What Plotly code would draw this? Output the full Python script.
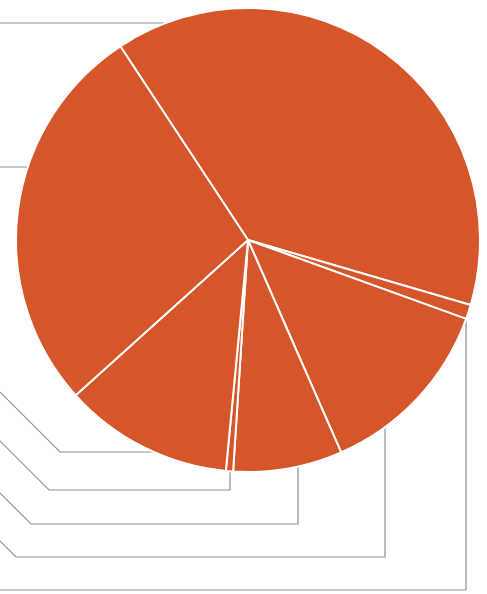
import plotly.graph_objects as go

# ---- data (share of the whole) ----
categories = ["Segment A", "Segment B", "Segment C", "Segment D",
              "Segment E", "Segment F", "Segment G"]
values = [38.8, 1.0, 12.9, 7.6, 0.5, 11.8, 27.4]

# ---- layout constants (pixels) ----
W, H = 487, 594
CX, CY, R = 248, 240, 232          # pie centre / radius in pixels
START_ANGLE = 326.6                # first slice starts here (clockwise from 12 o'clock)
PIE_COLOR = "#D5562A"
LEADER_COLOR = "#8C9096"

# leader routes (pixel polylines), each ends hidden under the pie
leaders = [
    [(0, 23), (175, 23)],                                   # Segment A
    [(0, 167), (40, 167)],                                  # Segment G
    [(-20, 372), (60, 452), (170, 452)],                    # Segment F
    [(-20, 421), (49, 490), (230, 490), (230, 462)],        # Segment E
    [(-20, 473), (31, 524), (298, 524), (298, 455)],        # Segment D
    [(-20, 521), (16, 557), (385, 557), (385, 410)],        # Segment C
    [(-20, 590), (466, 590), (466, 305)],                   # Segment B
]


def px(x):
    return x / W


def py(y):
    return 1 - y / H


fig = go.Figure()
fig.add_trace(go.Pie(
    labels=categories,
    values=values,
    sort=False,
    direction="clockwise",
    rotation=START_ANGLE,
    textinfo="none",
    hoverinfo="label+percent",
    marker=dict(colors=[PIE_COLOR] * len(values),
                line=dict(color="white", width=2)),
    domain=dict(x=[px(CX - R), px(CX + R)], y=[py(CY + R), py(CY - R)]),
    showlegend=False,
))

shapes = []
for route in leaders:
    path = "M " + " L ".join(f"{px(x):.5f},{py(y):.5f}" for x, y in route)
    shapes.append(dict(type="path", path=path, xref="paper", yref="paper",
                       line=dict(color=LEADER_COLOR, width=1.2),
                       layer="below"))

fig.update_layout(
    width=W, height=H,
    margin=dict(l=0, r=0, t=0, b=0),
    paper_bgcolor="white",
    plot_bgcolor="white",
    shapes=shapes,
    showlegend=False,
)

fig.write_html("out.html")
